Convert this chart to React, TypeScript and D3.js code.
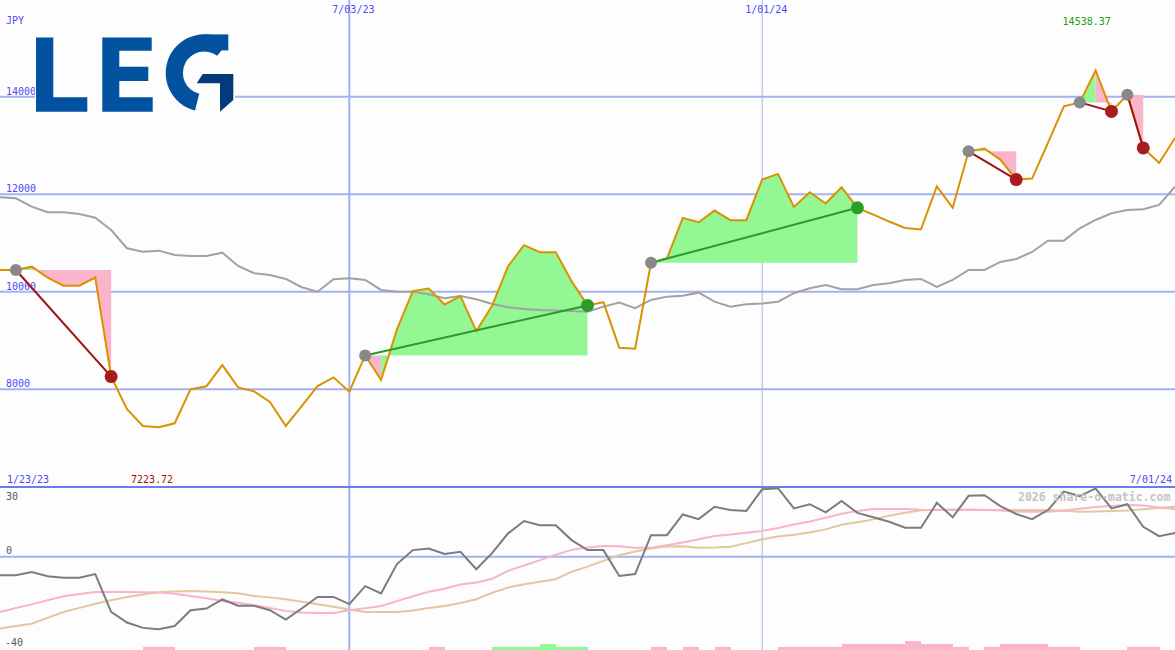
import React from 'react';
import * as d3 from 'd3';

const W = 1175;
const H = 650;

// weekly closes (JPY)
const closePrices = [
  10447, 10447, 10515, 10290, 10125, 10125, 10290, 8260, 7590, 7248,
  7223.72, 7303, 7999, 8061, 8497, 8040, 7958, 7739, 7248, 7657,
  8067, 8245, 7952, 8695, 8190, 9228, 10013, 10068, 9740, 9910,
  9193, 9720, 10525, 10955, 10811, 10811, 10217, 9720, 9787, 8853,
  8833, 10594, 10682, 11516, 11426, 11665, 11467, 11467, 12300, 12417,
  11741, 12040, 11809, 12142, 11721, 11583, 11440, 11307, 11276, 12163,
  11721, 12880, 12935, 12710, 12300, 12321, 13052, 13801, 13883, 14538.37,
  13699, 14041, 12949, 12642, 13154,
];

// long moving average (grey)
const movingAvg = [
  11938, 11917, 11745, 11630, 11630, 11595, 11519, 11267, 10892, 10822,
  10843, 10755, 10734, 10734, 10802, 10529, 10380, 10345, 10263, 10093,
  10002, 10257, 10277, 10242, 10037, 10002, 10002, 9949, 9867, 9914,
  9847, 9750, 9683, 9648, 9627, 9617, 9607, 9592, 9695, 9777,
  9662, 9832, 9900, 9920, 9982, 9797, 9695, 9744, 9761, 9797,
  9970, 10072, 10140, 10052, 10052, 10140, 10175, 10242, 10263, 10099,
  10242, 10447, 10447, 10611, 10673, 10816, 11048, 11048, 11302, 11472,
  11610, 11677, 11692, 11780, 12155,
];

// lower panel oscillator (grey)
const oscillator = [
  -7.9, -7.9, -6.5, -8.3, -9.0, -9.0, -7.4, -23.6, -28.2, -30.5,
  -31.1, -29.7, -22.9, -22.2, -18.3, -21.0, -21.0, -22.9, -26.9, -22.2,
  -17.2, -17.2, -20.3, -12.6, -15.7, -3.1, 2.9, 3.6, 1.2, 2.2,
  -5.3, 1.7, 10.1, 15.4, 13.6, 13.6, 7.2, 2.9, 2.9, -8.2,
  -7.4, 9.3, 9.3, 18.2, 16.2, 21.5, 20.1, 19.7, 29.0, 29.5,
  20.8, 22.6, 19.1, 24.0, 18.9, 17.0, 15.1, 12.5, 12.5, 23.2,
  17.0, 26.2, 26.5, 21.8, 18.4, 16.2, 20.1, 28.0, 26.1, 29.4,
  20.8, 22.6, 12.9, 8.9, 10.3,
];

// lower panel fast signal (pink)
const fastSignal = [
  -23.7, -22.0, -20.4, -18.6, -16.9, -16.0, -15.1, -15.1, -15.1, -15.2,
  -15.3, -15.8, -16.8, -17.8, -19.0, -19.7, -20.8, -22.0, -23.2, -23.9,
  -24.1, -24.1, -22.9, -22.1, -21.1, -19.0, -16.9, -15.0, -13.7, -11.9,
  -11.0, -9.4, -6.0, -3.7, -1.4, 0.9, 3.0, 4.0, 4.7, 4.6,
  3.9, 3.9, 5.0, 6.2, 7.6, 9.0, 9.6, 10.4, 11.1, 12.4,
  13.9, 15.2, 16.8, 18.5, 19.7, 20.5, 20.5, 20.5, 20.2, 20.1,
  20.1, 20.1, 20.1, 19.9, 19.5, 19.4, 19.4, 19.9, 20.7, 21.4,
  21.8, 22.3, 22.1, 21.2, 20.5,
];

// lower panel slow signal (tan)
const slowSignal = [
  -30.8, -29.7, -28.7, -26.2, -23.7, -21.9, -20.1, -18.6, -17.2, -16.2,
  -15.2, -14.9, -14.7, -14.9, -15.2, -15.6, -16.8, -17.4, -18.2, -19.3,
  -20.4, -21.4, -22.6, -23.7, -23.7, -23.7, -23.0, -22.0, -21.1, -19.8,
  -18.2, -15.4, -13.2, -11.8, -10.7, -9.6, -6.4, -4.2, -1.7, 0.7,
  2.3, 3.6, 4.5, 4.6, 3.9, 4.0, 4.3, 5.9, 7.6, 8.7,
  9.5, 10.5, 11.8, 13.8, 14.9, 16.1, 17.7, 18.9, 20.0, 20.2,
  20.3, 20.3, 20.1, 20.1, 20.1, 20.1, 20.1, 19.8, 19.4, 19.5,
  19.7, 19.9, 20.4, 21.1, 21.5,
];

// signal strength histogram (+ bullish, - bearish)
const signalBars = [
  0, 0, 0, 0, 0, 0, 0, 0, 0, 0,
  -1, -1, 0, 0, 0, 0, 0, -1, -1, 0,
  0, 0, 0, 0, 0, 0, 0, 0, -1, 0,
  0, 0, 1, 1, 1, 2, 1, 1, 0, 0,
  0, 0, -1, 0, -1, 0, -1, 0, 0, 0,
  -1, -1, -1, -1, -2, -2, -2, -2, -3, -2,
  -2, -1, 0, -1, -2, -2, -2, -1, -1, 0,
  0, 0, -1, -1, 0,
];

// trades: entry index, exit index
const tradeEntries = [1, 23, 41, 61, 68, 71];
const tradeExits = [7, 37, 54, 64, 70, 72];

const priceTicks = [8000, 10000, 12000, 14000];
const lowerTicks = [30, 0, -40];
const gridDates = ['2023-07-03', '2024-01-01'];
const gridDateLabels = ['7/03/23', '1/01/24'];
const startLabel = '1/23/23';
const endLabel = '7/01/24';
const currency = 'JPY';
const watermark = '2026 share-o-matic.com';

const BLUE_TXT = '#4c4cf6';
const GRID = '#a4b2f2';
const GREEN_FILL = '#93f793';
const PINK_FILL = '#fbb5ca';

export default function App() {
  const start = new Date(2023, 0, 30);
  const dates = closePrices.map((_, i) => d3.timeWeek.offset(start, i));
  const x = d3.scaleTime().domain([dates[0], dates[dates.length - 1]]).range([0, W]);
  const y = d3.scaleLinear().domain([8000, 14000]).range([389.3, 96.7]);
  const yl = d3.scaleLinear().domain([-40, 30]).range([650, 487]);
  const barH = d3.scaleLinear().domain([0, 3]).range([0, 9]);

  const priceLine = d3.line<number>().x((_, i) => x(dates[i])).y((d) => y(d));
  const lowerLine = d3.line<number>().x((_, i) => x(dates[i])).y((d) => yl(d));

  const parse = (s: string) => {
    const [a, b, c] = s.split('-').map(Number);
    return new Date(a, b - 1, c);
  };

  const maxIdx = d3.maxIndex(closePrices);
  const minIdx = d3.minIndex(closePrices);

  // trade fills: runs of segments coloured by whether the segment end is above the entry
  const fills: { d: string; color: string }[] = [];
  tradeEntries.forEach((e, k) => {
    const ex = tradeExits[k];
    const E = closePrices[e];
    const area = d3
      .area<number>()
      .x((i) => x(dates[i]))
      .y0(() => y(E))
      .y1((i) => y(closePrices[i]));
    let runStart = e + 1;
    for (let t = e + 1; t <= ex; t++) {
      const up = closePrices[t] > E;
      const nextUp = t < ex ? closePrices[t + 1] > E : null;
      if (t === ex || nextUp !== up) {
        const idx = d3.range(runStart - 1, t + 1);
        fills.push({ d: area(idx) || '', color: up ? GREEN_FILL : PINK_FILL });
        runStart = t + 1;
      }
    }
  });

  const gArc = d3.arc()({
    innerRadius: 21.5,
    outerRadius: 38.7,
    startAngle: (194 * Math.PI) / 180,
    endAngle: (397 * Math.PI) / 180,
  } as any) as string;

  const fmt = d3.format('.2f');

  return (
    <svg
      width={W}
      height={H}
      style={{ position: 'absolute', left: 0, top: 0, display: 'block', background: '#fcfdfc' }}
      fontFamily="'DejaVu Sans Mono', monospace"
      fontSize={10}
    >
      <defs>
        <clipPath id="mainClip">
          <rect x={0} y={0} width={W} height={486} />
        </clipPath>
        <clipPath id="lowClip">
          <rect x={0} y={487} width={W} height={H - 487} />
        </clipPath>
      </defs>
      <rect x={0} y={0} width={W} height={H} fill="#fcfdfc" />

      {/* horizontal price grid */}
      {priceTicks.map((v) => (
        <g key={v}>
          <line x1={0} x2={W} y1={y(v)} y2={y(v)} stroke={GRID} strokeWidth={2} />
          <text x={6} y={y(v) - 2} fill={BLUE_TXT}>{v}</text>
        </g>
      ))}

      {/* vertical date grid */}
      {gridDates.map((s, i) => (
        <g key={s}>
          <line
            x1={x(parse(s))}
            x2={x(parse(s))}
            y1={0}
            y2={H}
            stroke={GRID}
            strokeWidth={i === 0 ? 2 : 1}
          />
          <text x={x(parse(s)) - 17} y={13} fill={BLUE_TXT}>{gridDateLabels[i]}</text>
        </g>
      ))}

      <text x={6} y={24} fill={BLUE_TXT}>{currency}</text>

      {/* logo */}
      <g>
        <rect x={35} y={30} width={200} height={84} fill="#fcfdfc" />
        <path d="M36,37.5 H53.3 V97.3 H87.3 V111.7 H36 Z" fill="#0252a0" />
        <path
          d="M102.3,37.5 H151.7 V50.7 H119.3 V66.7 H148.3 V81 H119.3 V97.3 H152.7 V111.7 H102.3 Z"
          fill="#0252a0"
        />
        <path d={gArc} transform="translate(204.4,73)" fill="#0252a0" />
        <rect x={204} y={34.4} width={24.3} height={16} fill="#0252a0" />
        <path d="M202.7,74 H233.3 V100 L220,111.7 V83.3 H196.7 Z" fill="#033a7c" />
      </g>

      <g clipPath="url(#mainClip)">
        {fills.map((f, i) => (
          <path key={i} d={f.d} fill={f.color} />
        ))}
        <path d={priceLine(movingAvg) || ''} fill="none" stroke="#a2a2a2" strokeWidth={2} />
        <path d={priceLine(closePrices) || ''} fill="none" stroke="#da9200" strokeWidth={2} />
        {tradeEntries.map((e, k) => {
          const ex = tradeExits[k];
          const win = closePrices[ex] > closePrices[e];
          return (
            <line
              key={k}
              x1={x(dates[e])}
              y1={y(closePrices[e])}
              x2={x(dates[ex])}
              y2={y(closePrices[ex])}
              stroke={win ? '#2a9a2a' : '#9c1414'}
              strokeWidth={2}
            />
          );
        })}
        {tradeEntries.map((e, k) => {
          const ex = tradeExits[k];
          const win = closePrices[ex] > closePrices[e];
          return (
            <g key={'m' + k}>
              <circle cx={x(dates[e])} cy={y(closePrices[e])} r={6} fill="#888888" />
              <circle
                cx={x(dates[ex])}
                cy={y(closePrices[ex])}
                r={6.5}
                fill={win ? '#2a9d2a' : '#a81c1c'}
              />
            </g>
          );
        })}
      </g>

      <text x={x(dates[maxIdx]) - 33} y={25} fill="#1f9a1f">{fmt(closePrices[maxIdx])}</text>
      <text x={131} y={483} fill="#a01414">{fmt(closePrices[minIdx])}</text>
      <text x={7} y={483} fill={BLUE_TXT}>{startLabel}</text>
      <text x={W - 3} y={483} fill={BLUE_TXT} textAnchor="end">{endLabel}</text>

      {/* lower panel */}
      <line x1={0} x2={W} y1={yl(0)} y2={yl(0)} stroke={GRID} strokeWidth={2} />
      <line x1={0} x2={W} y1={487} y2={487} stroke="#6c7cec" strokeWidth={2} />
      <g clipPath="url(#lowClip)">
        {signalBars.map((v, i) =>
          v === 0 || i === 0 ? null : (
            <rect
              key={i}
              x={x(dates[i - 1])}
              y={H - barH(Math.abs(v))}
              width={x(dates[i]) - x(dates[i - 1]) + 0.5}
              height={barH(Math.abs(v))}
              fill={v > 0 ? GREEN_FILL : PINK_FILL}
              shapeRendering="crispEdges"
            />
          )
        )}
        <path d={lowerLine(slowSignal) || ''} fill="none" stroke="#e2c99c" strokeWidth={2} />
        <path d={lowerLine(fastSignal) || ''} fill="none" stroke="#f8b4c8" strokeWidth={2} />
        <path d={lowerLine(oscillator) || ''} fill="none" stroke="#7c7c7c" strokeWidth={2} />
      </g>
      <text x={6} y={499.5} fill="#5a5a5a">{lowerTicks[0]}</text>
      <text x={6} y={554} fill="#5a5a5a">{lowerTicks[1]}</text>
      <text x={5} y={645.5} fill="#5a5a5a">{lowerTicks[2]}</text>
      <text x={1018} y={500.5} fill="#c4c4c4" fontWeight="bold" fontSize={11.5}>{watermark}</text>
    </svg>
  );
}
